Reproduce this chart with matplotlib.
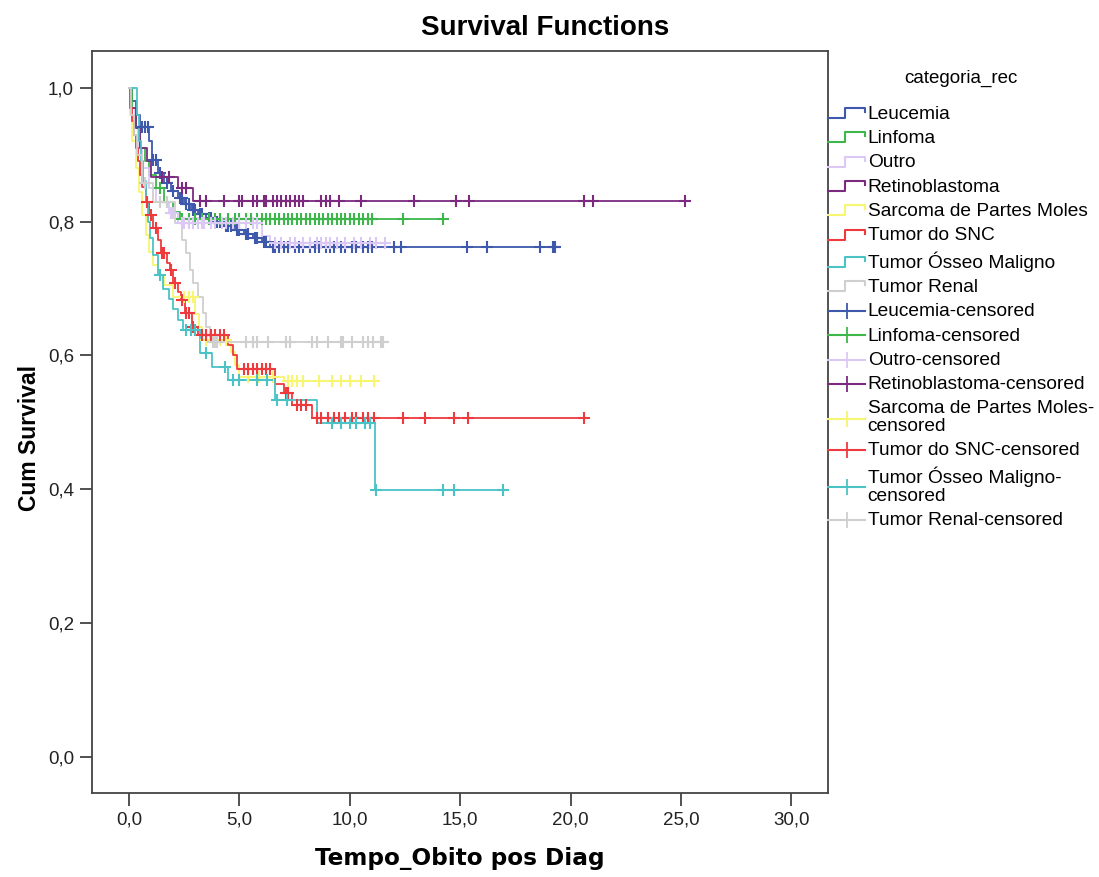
import numpy as np
import matplotlib
matplotlib.use("Agg")
import matplotlib.pyplot as plt
from matplotlib.lines import Line2D
from matplotlib.legend_handler import HandlerBase
from matplotlib.ticker import FuncFormatter

# ---- Kaplan-Meier step data per category: step times, survival after step, censor times
leuc_t = [0, 0.15, 0.3, 0.5, 0.9, 1.05, 1.3, 1.6, 1.9, 2.2, 2.5, 2.8, 3.1, 3.5, 3.9, 4.3, 4.8, 5.2, 5.6, 6.0, 6.4]
leuc_s = [1.0, 0.98, 0.96, 0.942, 0.92, 0.892, 0.872, 0.857, 0.846, 0.836, 0.826, 0.818, 0.811, 0.805, 0.800,
          0.794, 0.788, 0.782, 0.776, 0.769, 0.762]
leuc_c = [0.6, 0.7, 0.85, 1.1, 1.2, 1.4, 1.7, 2.0, 2.3, 2.4, 2.6, 2.7, 2.9, 3.0, 3.2, 3.3, 3.6, 3.7, 4.0, 4.1,
          4.4, 4.5, 4.6, 4.9, 5.0, 5.3, 5.4, 5.7, 5.8, 6.1, 6.2, 6.5, 6.6, 6.8, 7.0, 7.2, 7.5, 7.7, 7.9, 8.2,
          8.4, 8.6, 8.9, 9.1, 9.3, 9.6, 9.8, 10.1, 10.3, 10.6, 10.8, 11.0, 12.0, 12.3, 15.3, 16.2, 18.6, 19.2, 19.3]

linf_t = [0, 0.15, 0.3, 0.5, 0.7, 0.9, 1.2, 1.6, 2.0, 2.3]
linf_s = [1.0, 0.97, 0.94, 0.91, 0.89, 0.87, 0.85, 0.83, 0.815, 0.804]
linf_c = [1.4, 1.7, 2.4, 2.7, 3.0, 3.3, 3.6, 3.9, 4.1, 4.5, 4.8, 5.0, 5.3, 5.5, 5.8, 6.0, 6.2, 6.4, 6.6, 6.8,
          7.0, 7.2, 7.4, 7.6, 7.8, 8.0, 8.2, 8.4, 8.6, 8.8, 9.0, 9.2, 9.4, 9.6, 9.8, 10.0, 10.2, 10.4, 10.6,
          10.8, 11.0, 12.4, 14.2]

outr_t = [0, 0.1, 0.25, 0.4, 0.6, 0.9, 1.2, 1.8, 2.2, 6.0, 6.4]
outr_s = [1.0, 0.97, 0.94, 0.91, 0.88, 0.85, 0.83, 0.813, 0.798, 0.778, 0.768]
outr_c = [1.9, 2.0, 2.4, 2.5, 2.7, 2.9, 3.1, 3.3, 3.4, 3.7, 3.9, 4.2, 4.4, 4.7, 5.0, 5.3, 5.6, 5.8, 6.6, 6.9,
          7.3, 7.5, 7.9, 8.2, 8.5, 8.7, 8.9, 9.1, 9.4, 9.8, 10.2, 10.5, 10.9, 11.2, 11.6]

retn_t = [0, 0.1, 0.3, 0.5, 0.8, 1.0, 2.2, 2.9]
retn_s = [1.0, 0.97, 0.94, 0.91, 0.89, 0.867, 0.85, 0.831]
retn_c = [1.5, 1.8, 2.4, 2.6, 3.2, 3.5, 4.3, 5.0, 5.1, 5.6, 5.8, 6.1, 6.2, 6.5, 6.7, 6.9, 7.1, 7.3, 7.5,
          7.7, 7.9, 8.7, 8.9, 9.1, 9.5, 10.5, 12.9, 14.8, 15.4, 20.6, 21.0, 25.2]

sarc_t = [0, 0.05, 0.15, 0.3, 0.45, 0.6, 0.75, 0.9, 1.1, 1.3, 1.6, 2.0, 3.0, 3.15, 3.3, 4.6, 4.8, 5.0, 7.0]
sarc_s = [1.0, 0.96, 0.92, 0.88, 0.845, 0.81, 0.78, 0.755, 0.735, 0.72, 0.705, 0.688, 0.662, 0.643, 0.623,
          0.605, 0.585, 0.568, 0.562]
sarc_c = [2.5, 2.7, 2.9, 3.5, 3.8, 4.1, 4.4, 5.4, 5.9, 6.5, 7.2, 7.4, 7.6, 7.9, 8.6, 9.2, 9.6, 10.0, 10.5, 11.1]

snc_t = [0, 0.05, 0.12, 0.2, 0.3, 0.4, 0.5, 0.6, 0.75, 0.9, 1.1, 1.3, 1.45, 1.7, 1.85, 2.0, 2.2, 2.35, 2.55,
         2.85, 3.1, 4.5, 4.7, 4.9, 6.6, 7.0, 7.4, 8.3]
snc_s = [1.0, 0.97, 0.95, 0.93, 0.91, 0.89, 0.87, 0.852, 0.83, 0.81, 0.79, 0.772, 0.753, 0.738, 0.728, 0.708,
         0.695, 0.683, 0.663, 0.643, 0.63, 0.615, 0.60, 0.58, 0.558, 0.544, 0.526, 0.507]
snc_c = [0.8, 1.0, 1.2, 1.5, 1.6, 1.9, 2.1, 2.4, 2.6, 2.7, 2.9, 3.3, 3.5, 3.7, 3.9, 4.1, 4.3, 5.2, 5.4, 5.6,
         5.8, 6.0, 6.2, 6.4, 7.1, 7.2, 7.6, 7.8, 8.0, 8.5, 8.7, 9.0, 9.3, 9.5, 9.8, 10.1, 10.3, 10.6, 10.8,
         11.1, 12.4, 13.4, 14.7, 15.35, 20.6]

osse_t = [0, 0.35, 0.45, 0.55, 0.65, 0.75, 0.85, 0.95, 1.1, 1.3, 1.55, 1.8, 2.0, 2.2, 2.45, 3.2, 3.75, 4.5,
          6.6, 8.5, 11.15]
osse_s = [1.0, 0.96, 0.92, 0.89, 0.86, 0.83, 0.80, 0.775, 0.75, 0.72, 0.70, 0.685, 0.67, 0.653, 0.638, 0.603,
          0.583, 0.563, 0.533, 0.499, 0.399]
osse_c = [1.4, 2.6, 2.8, 3.0, 3.5, 4.35, 4.7, 5.0, 5.8, 6.25, 6.7, 7.15, 9.2, 9.6, 10.0, 10.3, 10.7, 10.9,
          11.2, 14.2, 14.7, 16.95]

rena_t = [0, 0.1, 0.2, 0.35, 0.6, 1.1, 2.1, 2.4, 2.6, 2.76, 2.9, 3.1, 3.37, 3.5, 3.67]
rena_s = [1.0, 0.96, 0.93, 0.9, 0.858, 0.83, 0.798, 0.773, 0.753, 0.728, 0.708, 0.688, 0.663, 0.643, 0.62]
rena_c = [0.7, 1.4, 1.7, 3.8, 3.9, 4.0, 5.3, 5.6, 5.8, 6.3, 7.1, 7.3, 8.3, 8.5, 9.0, 9.6, 9.7, 10.1, 10.6,
          10.8, 11.05, 11.4, 11.5]

categories = ["Leucemia", "Linfoma", "Outro", "Retinoblastoma", "Sarcoma de Partes Moles",
              "Tumor do SNC", "Tumor Ósseo Maligno", "Tumor Renal"]
censored_labels = ["Leucemia-censored", "Linfoma-censored", "Outro-censored", "Retinoblastoma-censored",
                   "Sarcoma de Partes Moles-\ncensored", "Tumor do SNC-censored",
                   "Tumor Ósseo Maligno-\ncensored", "Tumor Renal-censored"]
colors = ["#3E58AC", "#3DB64A", "#DCC8F5", "#7B2A80", "#F8F570", "#EE3A3D", "#4BC3C6", "#CFCFCF"]

series = [(leuc_t, leuc_s, leuc_c), (linf_t, linf_s, linf_c), (outr_t, outr_s, outr_c),
          (retn_t, retn_s, retn_c), (sarc_t, sarc_s, sarc_c), (snc_t, snc_s, snc_c),
          (osse_t, osse_s, osse_c), (rena_t, rena_s, rena_c)]

W, H = 1099, 877
fig = plt.figure(figsize=(W / 100, H / 100), dpi=100)
ax = fig.add_axes([92 / W, 1 - 793 / H, (828 - 92) / W, (793 - 51) / H])

LW = 1.3
line_handles = []
for (t, s, c), col in zip(series, colors):
    t = np.asarray(t, float)
    s = np.asarray(s, float)
    end = max(c) if len(c) else t[-1]
    tx = np.append(t, end)
    sx = np.append(s, s[-1])
    h, = ax.step(tx, sx, where="post", color=col, lw=LW, zorder=2)
    line_handles.append(h)

cens_handles = []
for (t, s, c), col in zip(series, colors):
    t = np.asarray(t, float)
    s = np.asarray(s, float)
    c = np.asarray(c, float)
    cy = s[np.searchsorted(t, c, side="right") - 1]
    h, = ax.plot(c, cy, linestyle="none", marker="+", ms=9, mew=1.5, color=col, zorder=3)
    cens_handles.append(h)

ax.set_xlim(-1.68, 31.66)
ax.set_ylim(-0.054, 1.055)
ax.set_xticks(np.arange(0, 31, 5))
ax.set_yticks(np.arange(0, 1.01, 0.2))
fmt = FuncFormatter(lambda v, p: f"{v:.1f}".replace(".", ","))
ax.xaxis.set_major_formatter(fmt)
ax.yaxis.set_major_formatter(fmt)
ax.tick_params(direction="out", length=9, width=1.2, color="#333333", labelsize=13.5,
               labelcolor="#222222", pad=4, top=False, right=False)
for sp in ax.spines.values():
    sp.set_linewidth(1.3)
    sp.set_color("#444444")
for lab in ax.get_xticklabels() + ax.get_yticklabels():
    lab.set_family("Liberation Sans")

ax.set_xlabel("Tempo_Obito pos Diag", fontsize=16.7, fontweight="bold", family="DejaVu Sans", labelpad=14)
ax.set_ylabel("Cum Survival", fontsize=16.5, fontweight="bold", family="Liberation Sans",
              va="center", ha="center")
ax.yaxis.set_label_coords((30 - 92) / (828 - 92), 1 - (438 - 51) / (793 - 51))
fig.text(545 / W, 1 - 28 / H, "Survival Functions", ha="center", va="center", fontsize=20,
         fontweight="bold", family="Liberation Sans")


class StepHandler(HandlerBase):
    def create_artists(self, legend, orig_handle, xdescent, ydescent, width, height, fontsize, trans):
        x0 = -xdescent
        y0 = -ydescent
        xs = [x0, x0 + 0.45 * width, x0 + 0.45 * width, x0 + width, x0 + width]
        ys = [y0 + 0.05 * height, y0 + 0.05 * height, y0 + 0.8 * height, y0 + 0.8 * height, y0 + 0.5 * height]
        ln = Line2D(xs, ys, color=orig_handle.get_color(), lw=1.5, transform=trans)
        return [ln]


class CensHandler(HandlerBase):
    def create_artists(self, legend, orig_handle, xdescent, ydescent, width, height, fontsize, trans):
        x0 = -xdescent
        yc = -ydescent + 0.4 * height
        ln = Line2D([x0, x0 + width], [yc, yc], color=orig_handle.get_color(), lw=1.5, transform=trans)
        mk = Line2D([x0 + width / 2], [yc], marker="+", ms=12, mew=1.3, linestyle="none",
                    color=orig_handle.get_color(), transform=trans)
        return [ln, mk]


handler_map = {h: StepHandler() for h in line_handles}
handler_map.update({h: CensHandler() for h in cens_handles})
leg = ax.legend(line_handles + cens_handles, categories + censored_labels, handler_map=handler_map,
                loc="upper left", bbox_to_anchor=(1.0, 1 - (70 - 51) / (793 - 51)),
                frameon=False, title="categoria_rec", title_fontsize=13.5,
                handlelength=1.95, handletextpad=0.12, labelspacing=0.36, borderpad=0, borderaxespad=0,
                prop={"family": "Liberation Sans", "size": 13.8})
leg.get_title().set_family("Liberation Sans")
leg._legend_box.sep = 13
for txt in leg.get_texts():
    txt.set_linespacing(1.08)

fig.savefig("out.png", dpi=100, facecolor="white")
